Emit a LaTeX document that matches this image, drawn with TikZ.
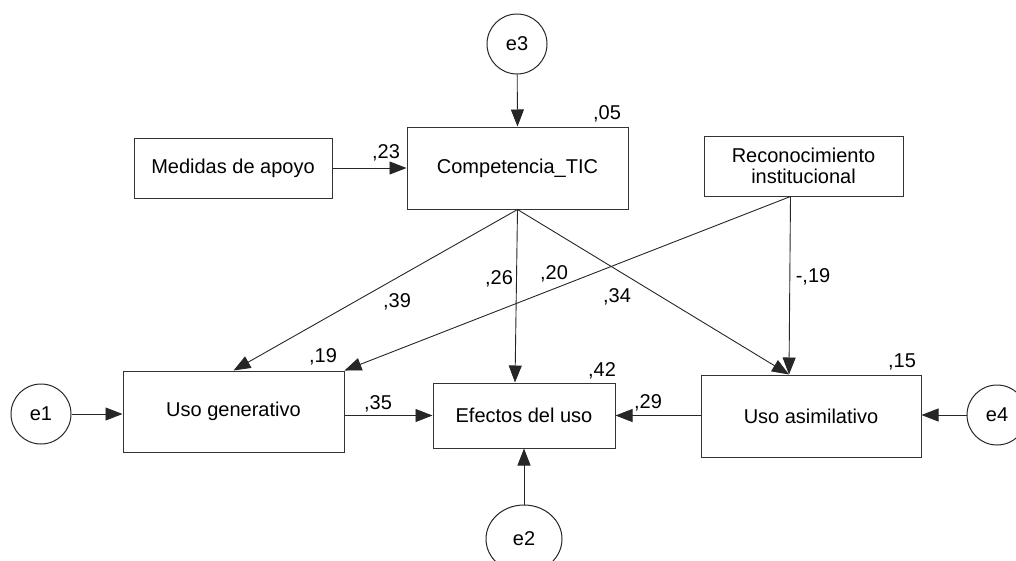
\documentclass[tikz,border=0pt]{standalone}
\usepackage{fontspec}
\setmainfont{Liberation Sans}
\usetikzlibrary{arrows.meta,positioning,shapes.geometric}
\begin{document}
\begin{tikzpicture}[x=1pt,y=-1pt,
  font=\fontsize{20}{23.5}\selectfont,
  var/.style={draw=black!80,line width=1pt,rectangle,inner sep=0pt,align=center},
  err/.style={draw=black!85,line width=1pt,circle,minimum size=60pt,inner sep=0pt},
  path/.style={draw=black!85,line width=0.9pt,-{Triangle[length=17pt,width=13pt]}},
  lab/.style={inner sep=0pt,anchor=center}]
\useasboundingbox (0,0) rectangle (1016,560);
% variables
\node[var,minimum width=221pt,minimum height=82pt] (comp) at (517.5,168) {Competencia\_TIC};
\node[var,minimum width=198pt,minimum height=60pt] (med) at (233,168) {Medidas de apoyo};
\node[var,minimum width=199pt,minimum height=60pt] (reco) at (803.5,166) {Reconocimiento\\[-3pt]institucional};
\node[var,minimum width=221pt,minimum height=81pt] (gen) at (233.5,411.5) {Uso generativo};
\node[var,minimum width=182pt,minimum height=65pt] (efe) at (524,415.5) {Efectos del uso};
\node[var,minimum width=220pt,minimum height=82pt] (asi) at (811,416) {Uso asimilativo};
% errors
\node[err] (e3) at (517,44) {e3};
\node[err] (e1) at (41,414) {e1};
\node[err] (e4) at (997,415) {e4};
\node[draw=black!85,line width=1pt,ellipse,inner sep=0pt,minimum width=76pt,minimum height=68pt] (e2) at (524,539) {e2};
% anchor points
\coordinate (rs) at ([xshift=-13pt]reco.south);
\coordinate (an) at ([xshift=-22pt]asi.north);
\coordinate (en) at ([xshift=-9pt]efe.north);
% paths
\draw[path] (e3) -- (comp.north);
\draw[path] (med.east) -- (comp.west |- med.east);
\draw[path] (comp.south) -- (gen.north);
\draw[path] (comp.south) -- (en);
\draw[path] (comp.south) -- (an);
\draw[path] (rs) -- (gen.north east);
\draw[path] (rs) -- (an);
\draw[path] (e1) -- (gen.west |- e1);
\draw[path] (gen.east |- efe.east) -- (efe.west);
\draw[path] (asi.west |- efe.east) -- (efe.east);
\draw[path] (e4) -- (asi.east |- e4);
\draw[path] (e2) -- (efe.south);
% labels
\node[lab] (l05) at (607,114) {,05};
\node[lab] (l23) at (386,153) {,23};
\node[lab] (l39) at (397,302) {,39};
\node[lab] (l26) at (499,279) {,26};
\node[lab] (l20) at (554,274) {,20};
\node[lab] (l34) at (617,297) {,34};
\node[lab] (l19b) at (813,277) {-,19};
\node[lab] (l19) at (323,357) {,19};
\node[lab] (l35) at (378,404) {,35};
\node[lab] (l42) at (602,371) {,42};
\node[lab] (l29) at (648,403) {,29};
\node[lab] (l15) at (902,362) {,15};
\end{tikzpicture}
\end{document}
